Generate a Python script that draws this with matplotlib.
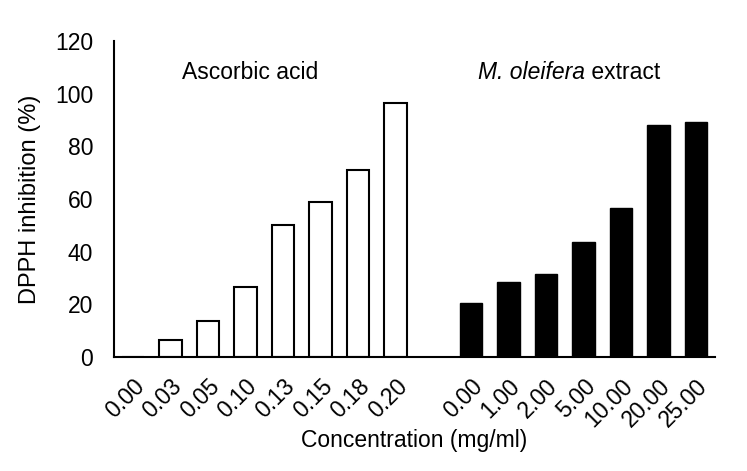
import matplotlib
matplotlib.use("Agg")
import matplotlib.pyplot as plt
import numpy as np

plt.rcParams['font.family'] = ['Liberation Sans', 'DejaVu Sans']

ascorbic_labels = ["0.00", "0.03", "0.05", "0.10", "0.13", "0.15", "0.18", "0.20"]
ascorbic_values = [0, 6.5, 13.8, 26.6, 50.3, 58.9, 70.9, 96.5]
moringa_labels = ["0.00", "1.00", "2.00", "5.00", "10.00", "20.00", "25.00"]
moringa_values = [20.4, 28.5, 31.5, 43.6, 56.7, 88.0, 89.3]

fig = plt.figure(figsize=(7.47, 4.71), dpi=100)
ax = fig.add_axes([0.1526, 0.242, 0.8044, 0.671])

xa = np.arange(len(ascorbic_values))
xm = np.arange(len(moringa_values)) + len(ascorbic_values) + 1

ax.bar(xa, ascorbic_values, width=0.6, color='white', edgecolor='black', linewidth=1.5)
ax.bar(xm, moringa_values, width=0.6, color='black', edgecolor='black', linewidth=1.0)

ax.set_xlim(-0.5, xm[-1] + 0.5)
ax.set_ylim(0, 120)
ax.set_yticks(np.arange(0, 121, 20))
ax.set_xticks(list(xa) + list(xm))
ax.set_xticklabels(ascorbic_labels + moringa_labels, rotation=45, ha='right',
                   rotation_mode='anchor', fontsize=16.5)
ax.tick_params(axis='y', labelsize=16.5, length=0, pad=15)
ax.tick_params(axis='x', length=0, pad=13)

for s in ['top', 'right']:
    ax.spines[s].set_visible(False)
for s in ['left', 'bottom']:
    ax.spines[s].set_linewidth(1.5)

ax.set_ylabel("DPPH inhibition (%)", fontsize=17, labelpad=10)
ax.set_xlabel("Concentration (mg/ml)", fontsize=16.5, labelpad=-2)

ax.text(3.12, 108, "Ascorbic acid", ha='center', va='center', fontsize=16.5)

# Mixed italic / upright label for the extract group
t1 = ax.text(9.2, 108, "M. oleifera", ha='left', va='center', fontsize=16.5, fontstyle='italic')
fig.canvas.draw()
bb = t1.get_window_extent(renderer=fig.canvas.get_renderer())
x_end = ax.transData.inverted().transform((bb.x1, bb.y0))[0]
ax.text(x_end, 108, " extract", ha='left', va='center', fontsize=16.5)

fig.savefig("out.png", dpi=100)
